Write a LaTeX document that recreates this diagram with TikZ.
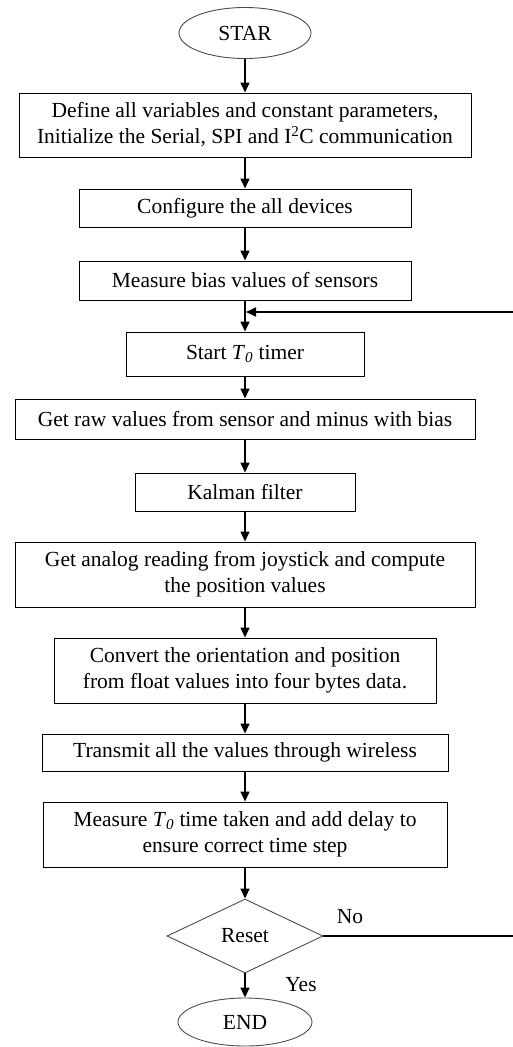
\documentclass[tikz,border=0pt]{standalone}
\usepackage{fontspec}
\setmainfont{Liberation Serif}
\usetikzlibrary{shapes.geometric,arrows.meta}
\newcommand{\Tzero}{\textit{T}\textsubscript{\textit{0}}}
\begin{document}
\begin{tikzpicture}[x=1pt,y=-1pt,
  every node/.style={font=\fontsize{21.5}{26}\selectfont},
  box/.style={draw,line width=1pt,rectangle,inner sep=0pt,align=center},
  term/.style={draw=black!70,line width=0.9pt,ellipse,inner sep=0pt},
  decide/.style={draw=black!70,line width=0.9pt,diamond,inner sep=0pt},
  flow/.style={line width=1.6pt,-{Triangle[length=10pt,width=9pt]}},
  lbl/.style={inner sep=0pt}
]
\useasboundingbox (0,0) rectangle (513,1047);
\node[term, minimum width=132pt, minimum height=51pt] (start) at (245,33) {STAR};
\node[box, minimum width=452pt, minimum height=64pt] (b1) at (245,125)
  {Define all variables and constant parameters,\\Initialize the Serial, SPI and I\textsuperscript{2}C communication};
\node[box, minimum width=332pt, minimum height=38pt] (b2) at (245,208) {Configure the all devices};
\node[box, minimum width=332pt, minimum height=39pt] (b3) at (245,280.5) {Measure bias values of sensors};
\node[box, minimum width=238pt, minimum height=44pt] (b4) at (245,354) {Start \Tzero{} timer};
\node[box, minimum width=460pt, minimum height=40pt] (b5) at (245,419) {Get raw values from sensor and minus with bias};
\node[box, minimum width=220pt, minimum height=38pt] (b6) at (245,492) {Kalman filter};
\node[box, minimum width=460pt, minimum height=65pt] (b7) at (245,574.5)
  {Get analog reading from joystick and compute\\the position values};
\node[box, minimum width=382pt, minimum height=65pt] (b8) at (245,670.5)
  {Convert the orientation and position\\from float values into four bytes data.};
\node[box, minimum width=406pt, minimum height=37pt] (b9) at (245,752.5) {Transmit all the values through wireless};
\node[box, minimum width=404pt, minimum height=65pt] (b10) at (245,834.5)
  {Measure \Tzero{} time taken and add delay to\\ensure correct time step};
\node[decide, minimum width=156pt, minimum height=74pt] (reset) at (245,936) {Reset};
\node[term, minimum width=134pt, minimum height=48pt] (end) at (245,1022) {END};
\coordinate (join) at (246,312);
\coordinate (rb) at (522,936);
\coordinate (rt) at (522,312);
\node[lbl] (no) at (350,917) {No};
\node[lbl] (yes) at (301,985) {Yes};

\draw[flow] (start) -- (b1);
\draw[flow] (b1) -- (b2);
\draw[flow] (b2) -- (b3);
\draw[flow] (b3) -- (b4);
\draw[flow] (b4) -- (b5);
\draw[flow] (b5) -- (b6);
\draw[flow] (b6) -- (b7);
\draw[flow] (b7) -- (b8);
\draw[flow] (b8) -- (b9);
\draw[flow] (b9) -- (b10);
\draw[flow] (b10) -- (reset);
\draw[flow] (reset) -- (end);
\draw[flow] (reset.east) -- (rb) -- (rt) -- (join);
\end{tikzpicture}
\end{document}
